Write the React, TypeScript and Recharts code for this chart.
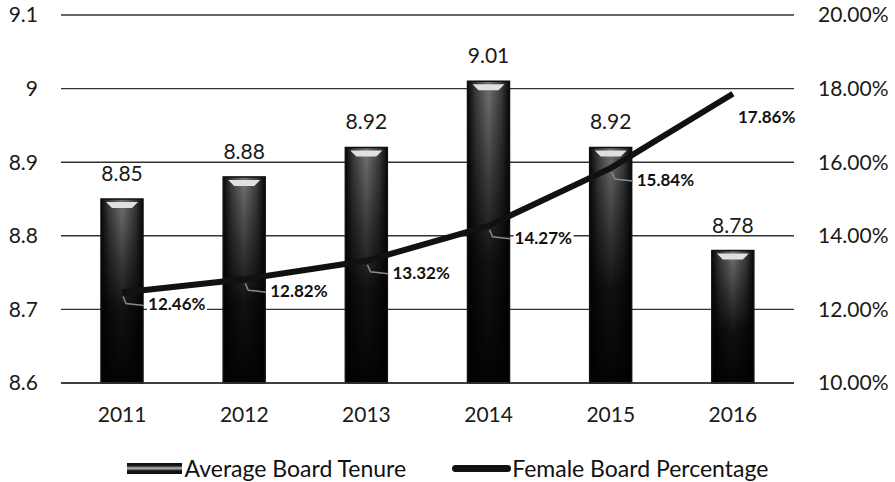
import { Bar, CartesianGrid, ComposedChart, LabelList, Legend, Line, XAxis, YAxis } from "recharts";

const years = ["2011", "2012", "2013", "2014", "2015", "2016"];
const tenure = [8.85, 8.88, 8.92, 9.01, 8.92, 8.78];
const femalePct = [12.46, 12.82, 13.32, 14.27, 15.84, 17.86];
const leftTicks = [8.6, 8.7, 8.8, 8.9, 9.0, 9.1];
const rightTicks = [10, 12, 14, 16, 18, 20];

const data = years.map((year, i) => ({ year, tenure: tenure[i], female: femalePct[i] }));

const FONT = "Lato, 'DejaVu Sans', sans-serif";

/** Dark cylinder-ish bar with a light rim on top, like the scanned Excel bars. */
function CylinderBar(props: any) {
  const { x, y, width, height } = props;
  if (!width || !height) return null;
  return (
    <g>
      <rect x={x} y={y} width={width} height={height} fill="url(#barV)" />
      <rect x={x} y={y} width={width} height={height} fill="url(#barH)" />
      <polygon
        points={`${x + 5},${y + 3} ${x + width - 5},${y + 3} ${x + width - 11},${y + 9} ${x + 11},${y + 9}`}
        fill="#e0e0e0"
      />
      <rect x={x} y={y} width={width} height={height} fill="none" stroke="#111" strokeWidth={1.5} />
    </g>
  );
}

function BarValue(props: any) {
  const { x, y, width, value } = props;
  return (
    <text x={x + width / 2} y={y - 18} textAnchor="middle" fontSize={21} fontFamily={FONT} fill="#1a1a1a">
      {value}
    </text>
  );
}

function PctLabel(props: any) {
  const { x, y, value, index } = props;
  const last = index === femalePct.length - 1;
  const dx = last ? 5 : 26;
  const dy = last ? 23 : 12;
  const label = `${Number(value).toFixed(2)}%`;
  return (
    <g>
      {!last && (
        <path
          d={`M${x + 1},${y + 4} L${x + 4},${y + dy - 1} L${x + dx - 4},${y + dy + 1}`}
          stroke="#8a8a8a"
          strokeWidth={1.5}
          fill="none"
        />
      )}
      {!last && <rect x={x + dx - 1} y={y + dy - 10} width={60} height={20} fill="#fff" />}
      <text
        x={x + dx}
        y={y + dy}
        dy="0.35em"
        fontSize={17}
        fontWeight={700}
        fontFamily={FONT}
        fill="#111"
      >
        {label}
      </text>
    </g>
  );
}

function LegendBox() {
  const text = { fontFamily: FONT, fontSize: 23, color: "#111", lineHeight: "30px" };
  return (
    <div style={{ height: 30, display: "flex", justifyContent: "center", alignItems: "center" }}>
      <span
        style={{
          display: "inline-block",
          width: 55,
          height: 11,
          marginRight: 3,
          background: "linear-gradient(#111 0%, #111 22%, #b8b8b8 48%, #111 72%, #111 100%)",
        }}
      />
      <span style={text}>Average Board Tenure</span>
      <span
        style={{
          display: "inline-block",
          width: 59,
          height: 7,
          borderRadius: 4,
          background: "#111",
          marginLeft: 46,
          marginRight: 1,
        }}
      />
      <span style={text}>Female Board Percentage</span>
    </div>
  );
}

export default function App() {
  const tick = { fontSize: 21, fontFamily: FONT, fill: "#1a1a1a" };
  return (
    <div style={{ position: "absolute", left: 0, top: 0, width: 895, height: 482, background: "#fff" }}>
      <ComposedChart
        width={895}
        height={482}
        data={data}
        margin={{ top: 15, right: 0, bottom: 24, left: 0 }}
        style={{ fontFamily: FONT }}
      >
        <defs>
          <linearGradient id="barV" x1="0" y1="0" x2="0" y2="1">
            <stop offset="0%" stopColor="#9a9a9a" />
            <stop offset="30%" stopColor="#555" />
            <stop offset="60%" stopColor="#181818" />
            <stop offset="100%" stopColor="#050505" />
          </linearGradient>
          <linearGradient id="barH" x1="0" y1="0" x2="1" y2="0">
            <stop offset="0%" stopColor="#000" stopOpacity={0.95} />
            <stop offset="20%" stopColor="#000" stopOpacity={0.6} />
            <stop offset="50%" stopColor="#000" stopOpacity={0.25} />
            <stop offset="80%" stopColor="#000" stopOpacity={0.6} />
            <stop offset="100%" stopColor="#000" stopOpacity={0.95} />
          </linearGradient>
        </defs>
        <CartesianGrid yAxisId="left" vertical={false} stroke="#333" strokeWidth={1.4} />
        <XAxis
          dataKey="year"
          height={45}
          tickLine={false}
          tickSize={0}
          tickMargin={24}
          axisLine={{ stroke: "#333", strokeWidth: 1.5 }}
          tick={tick}
        />
        <YAxis
          yAxisId="left"
          width={61}
          domain={[8.6, 9.1]}
          ticks={leftTicks}
          tickFormatter={(v: number) => String(Number(v.toFixed(1)))}
          axisLine={false}
          tickLine={false}
          tickSize={0}
          tickMargin={23}
          tick={tick}
        />
        <YAxis
          yAxisId="right"
          orientation="right"
          width={101}
          domain={[10, 20]}
          ticks={rightTicks}
          tickFormatter={(v: number) => `${v.toFixed(2)}%`}
          axisLine={false}
          tickLine={false}
          tickSize={0}
          tickMargin={24}
          tick={{ ...tick, textAnchor: "start" }}
        />
        <Bar
          yAxisId="left"
          dataKey="tenure"
          name="Average Board Tenure"
          barSize={42}
          shape={<CylinderBar />}
          isAnimationActive={false}
        >
          <LabelList dataKey="tenure" content={<BarValue />} />
        </Bar>
        <Line
          yAxisId="right"
          type="linear"
          dataKey="female"
          name="Female Board Percentage"
          stroke="#111"
          strokeWidth={6}
          dot={false}
          activeDot={false}
          isAnimationActive={false}
        >
          <LabelList dataKey="female" content={<PctLabel />} />
        </Line>
        <Legend
          verticalAlign="bottom"
          content={<LegendBox />}
          wrapperStyle={{ top: 453, bottom: "auto", left: 0, width: 895, height: 30 }}
        />
      </ComposedChart>
    </div>
  );
}
